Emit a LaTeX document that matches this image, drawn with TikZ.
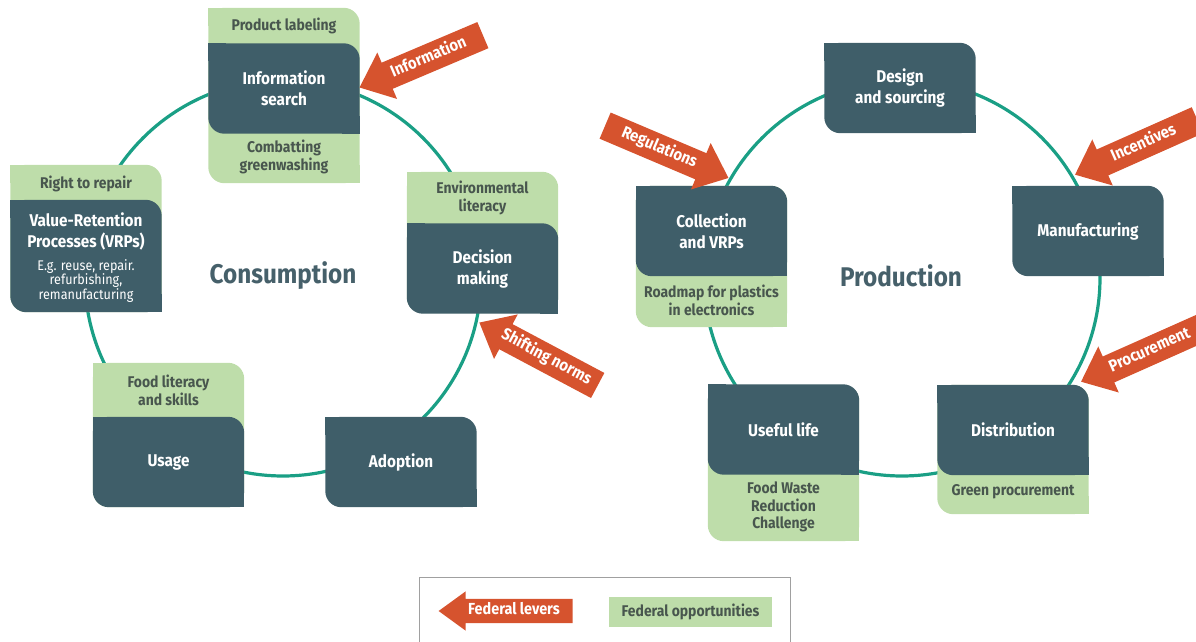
\documentclass[tikz,border=0pt]{standalone}
\usepackage{fontspec}
\setmainfont{Fira Sans}[FakeStretch=0.9]
\usetikzlibrary{shapes.arrows,backgrounds}

\definecolor{stageDark}{RGB}{63,94,105}
\definecolor{oppGreen}{RGB}{190,221,170}
\definecolor{oppText}{RGB}{72,86,78}
\definecolor{titleSlate}{RGB}{70,96,106}
\definecolor{ringTeal}{RGB}{26,159,133}
\definecolor{leverOrange}{RGB}{214,83,46}
\definecolor{frameGray}{RGB}{160,160,160}

\newcommand{\stagefont}{\fontsize{17}{21}\selectfont\bfseries}
\newcommand{\oppfont}{\fontsize{15.5}{17.5}\selectfont\bfseries}
\newcommand{\notefont}{\fontsize{14}{14.5}\selectfont}
\newcommand{\titlefont}{\fontsize{27}{30}\selectfont\bfseries}
\newcommand{\leverfont}{\fontsize{16.5}{18}\selectfont\bfseries}

% box with rounded top-right and bottom-left corners
\newcommand{\leaf}[2]{%
  \fill[#1, rounded corners=16pt] (#2.north west) rectangle (#2.south east);
  \fill[#1] (#2.north west) rectangle ([xshift=18pt,yshift=-18pt]#2.north west);
  \fill[#1] (#2.south east) rectangle ([xshift=-18pt,yshift=18pt]#2.south east);}

\tikzstyle{stage}=[minimum width=151pt, minimum height=90pt, inner sep=0pt, text=white, font=\stagefont, align=center]
\tikzstyle{stagetxt}=[inner sep=0pt, text=white, font=\stagefont, align=center]
\tikzstyle{oppbox}=[minimum width=151pt, inner sep=0pt]
\tikzstyle{opp}=[inner sep=0pt, text=oppText, font=\oppfont, align=center]
\tikzstyle{note}=[inner sep=0pt, text=white, font=\notefont, align=center]
\tikzstyle{title}=[inner sep=0pt, text=titleSlate, font=\titlefont]
\tikzstyle{ring}=[line width=3.2pt, draw=ringTeal]
\tikzstyle{lever}=[single arrow, fill=leverOrange, text=white, font=\leverfont, minimum height=134pt, text height=11pt, text depth=3.5pt, inner ysep=6.75pt, inner xsep=3pt, single arrow head extend=11pt, single arrow tip angle=80]
\tikzstyle{oppkey}=[fill=oppGreen, minimum width=163pt, minimum height=30pt, inner sep=0pt, text=oppText, font=\oppfont]
\tikzstyle{frame}=[draw=frameGray, line width=0.9pt]

\begin{document}
\begin{tikzpicture}[x=1pt,y=-1pt]
    \useasboundingbox (0,0) rectangle (1196,642);
    \coordinate (consC) at (283,278);
    \coordinate (prodC) at (902,278);

    % consumption cycle
    \draw (283,276) node[title] (cons) {Consumption};
    \draw (284,95.5) node[oppbox, minimum height=175pt] (infoOpp) {};
    \draw (284,88.5) node[stage] (info) {Information\\search};
    \draw (284,26) node[opp] (infoTop) {Product labeling};
    \draw (284,157) node[opp] (infoBot) {Combatting\\greenwashing};

    \draw (86,238.5) node[oppbox, minimum height=147pt] (vrpOpp) {};
    \draw (86,256) node[stage, minimum height=112pt] (vrp) {};
    \draw (86,184) node[opp] (vrpTop) {Right to repair};
    \draw (86,231) node[stagetxt] (vrpName) {Value-Retention\\Processes (VRPs)};
    \draw (86,281) node[note] (vrpNote) {E.g. reuse, repair.\\refurbishing,\\remanufacturing};

    \draw (482.5,242.5) node[oppbox, minimum height=141pt] (decOpp) {};
    \draw (482.5,268.5) node[stage] (dec) {Decision\\making};
    \draw (482.5,198) node[opp] (decTop) {Environmental\\literacy};

    \draw (168.5,435) node[oppbox, minimum height=144pt] (useOpp) {};
    \draw (168.5,462) node[stage] (usage) {Usage};
    \draw (168.5,390.5) node[opp] (useTop) {Food literacy\\and skills};

    \draw (401,462) node[stage] (adopt) {Adoption};

    % production cycle
    \draw (901,276) node[title] (prod) {Production};
    \draw (900,88) node[stage] (design) {Design\\and sourcing};
    \draw (1088,231) node[stage] (manuf) {Manufacturing};

    \draw (711.5,256.5) node[oppbox, minimum height=141pt] (collOpp) {};
    \draw (711.5,231) node[stage] (coll) {Collection\\and VRPs};
    \draw (711.5,300.5) node[opp] (collBot) {Roadmap for plastics\\in electronics};

    \draw (783.5,463) node[oppbox, minimum height=156pt] (lifeOpp) {};
    \draw (783.5,429.5) node[stage] (life) {Useful life};
    \draw (783.5,507) node[opp] (lifeBot) {Food Waste\\Reduction\\Challenge};

    \draw (1013,449.5) node[oppbox, minimum height=129pt] (distOpp) {};
    \draw (1013,430) node[stage] (dist) {Distribution};
    \draw (1013,492) node[opp] (distBot) {Green procurement};

    % federal levers
    \draw (429,58) node[lever, rotate=23, shape border rotate=180] (levInfo) {Information};
    \draw (659,148.5) node[lever, rotate=-23] (levReg) {Regulations};
    \draw (546,358) node[lever, rotate=-28, shape border rotate=180] (levNorm) {Shifting norms};
    \draw (1144,144) node[lever, rotate=24, shape border rotate=180] (levInc) {Incentives};
    \draw (1150,351) node[lever, rotate=24, shape border rotate=180] (levProc) {Procurement};

    % legend
    \draw[frame] (419,645) |- (790,577) -- (790,645);
    \draw (514,611) node[lever, shape border rotate=180, font=\fontsize{16}{18}\selectfont\bfseries, text height=10pt, text depth=3pt, inner ysep=5.5pt, single arrow head extend=7.5pt, single arrow tip angle=72] (levKey) {Federal levers};
    \draw (690.5,612) node[oppkey] (oppKey) {Federal opportunities};

    \begin{scope}[on background layer]
        \draw[ring] (consC) circle (198pt);
        \draw[ring] (prodC) circle (198pt);
        \foreach \n in {infoOpp,vrpOpp,decOpp,useOpp,collOpp,lifeOpp,distOpp} {\leaf{oppGreen}{\n}}
        \foreach \n in {info,vrp,dec,usage,adopt,design,manuf,coll,life,dist} {\leaf{stageDark}{\n}}
    \end{scope}
\end{tikzpicture}
\end{document}
